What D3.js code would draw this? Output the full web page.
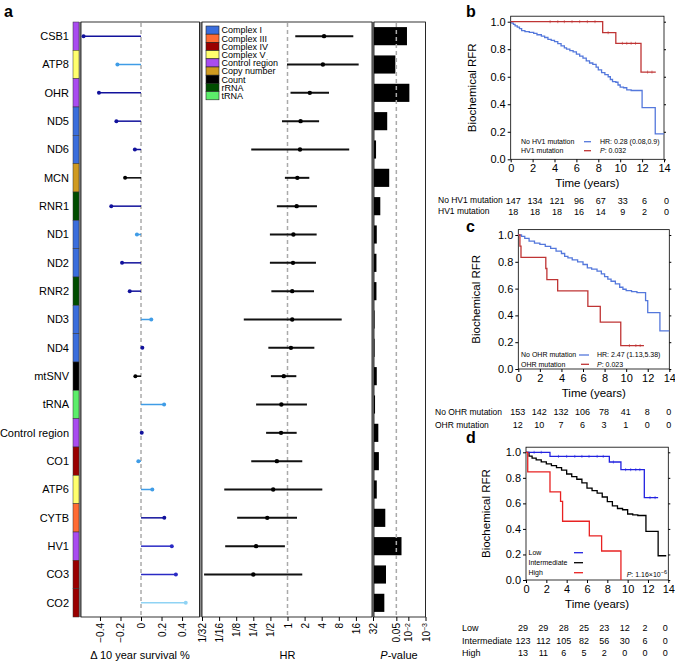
<!DOCTYPE html>
<html>
<head>
<meta charset="utf-8">
<script src="https://cdn.jsdelivr.net/npm/d3@7"></script>
<style>
  body { margin: 0; background: #fff; }
  svg { font-family: "Liberation Sans", Arial, sans-serif; }
</style>
</head>
<body>
<svg id="fig" width="675" height="666"></svg>
<script>
// ---- panel a data
var genes = ['CSB1', 'ATP8', 'OHR', 'ND5', 'ND6', 'MCN', 'RNR1', 'ND1', 'ND2', 'RNR2', 'ND3',
  'ND4', 'mtSNV', 'tRNA', 'Control region', 'CO1', 'ATP6', 'CYTB', 'HV1', 'CO3', 'CO2']
var geneClass = ['Control region', 'Complex V', 'Control region', 'Complex I', 'Complex I', 'Copy number',
  'rRNA', 'Complex I', 'Complex I', 'rRNA', 'Complex I', 'Complex I', 'Count', 'tRNA', 'Control region',
  'Complex IV', 'Complex V', 'Complex III', 'Control region', 'Complex IV', 'Complex IV']
var survDelta = [-0.56, -0.23, -0.41, -0.24, -0.06, -0.155, -0.29, -0.04, -0.185, -0.11, 0.10,
  0.013, -0.055, 0.225, 0.007, -0.026, 0.11, 0.227, 0.30, 0.34, 0.436]
var deltaTone = ['navy', 'sky', 'navy', 'navy', 'navy', 'black', 'navy', 'sky', 'navy', 'navy', 'sky',
  'navy', 'black', 'sky', 'navy', 'sky', 'sky', 'navy', 'blue', 'blue', 'pale']
var hr = [4.4, 4.2, 2.47, 1.7, 1.66, 1.49, 1.45, 1.27, 1.25, 1.21, 1.21, 1.15, 0.86, 0.78, 0.77, 0.65, 0.56, 0.44, 0.28, 0.25, null]
var hrLow = [1.37, 0.98, 1.13, 0.8, 0.23, 0.9, 0.65, 0.49, 0.49, 0.52, 0.17, 0.46, 0.51, 0.28, 0.42, 0.23, 0.077, 0.13, 0.08, 0.034, null]
var hrHigh = [14.4, 17.9, 5.38, 3.6, 12.2, 2.42, 3.3, 3.26, 3.17, 2.93, 9.0, 2.97, 1.43, 2.2, 1.45, 1.82, 4.1, 1.47, 0.9, 1.82, null]
var pValue = [0.012, 0.057, 0.0087, 0.17, 0.76, 0.13, 0.43, 0.69, 0.72, 0.72, 0.93, 0.93, 0.69, 0.87,
  0.56, 0.52, 0.69, 0.22, 0.025, 0.2, 0.25]

var classNames = ['Complex I', 'Complex III', 'Complex IV', 'Complex V', 'Control region', 'Copy number', 'Count', 'rRNA', 'tRNA']
var deltaTicks = [-0.4, -0.2, 0, 0.2, 0.4]
var hrTicks = [1 / 32, 1 / 16, 1 / 8, 1 / 4, 1 / 2, 1, 2, 4, 8, 16, 32]
var hrTickLabels = ['1/32', '1/16', '1/8', '1/4', '1/2', '1', '2', '4', '8', '16', '32']
var pTicks = [0.05, 0.01, 0.001]

// ---- KM data ([time, survival] steps)
var timeTicks = [0, 2, 4, 6, 8, 10, 12, 14]
var kmBNo = [[0, 1], [0.1, 0.99], [0.25, 0.98], [0.4, 0.97], [0.6, 0.96], [0.8, 0.95], [1.0, 0.935], [1.3, 0.928],
  [1.7, 0.922], [2.1, 0.915], [2.4, 0.905], [2.8, 0.895], [3.1, 0.885], [3.4, 0.872], [3.7, 0.865], [4.0, 0.855],
  [4.3, 0.84], [4.6, 0.825], [4.9, 0.81], [5.1, 0.8], [5.4, 0.79], [5.7, 0.78], [6.0, 0.765], [6.3, 0.75],
  [6.6, 0.735], [6.9, 0.715], [7.2, 0.7], [7.5, 0.69], [7.8, 0.67], [8.0, 0.65], [8.3, 0.63], [8.6, 0.615],
  [8.9, 0.6], [9.1, 0.58], [9.3, 0.565], [9.6, 0.56], [9.8, 0.54], [10.0, 0.525], [10.3, 0.52], [10.6, 0.505],
  [11.0, 0.5], [12.0, 0.375], [13.2, 0.185], [14, 0.185]]
var kmBHv1 = [[0, 1], [8.4, 0.92], [9.6, 0.843], [11.9, 0.634], [13.25, 0.634]]
var censBHv1 = [3.6, 4.3, 4.9, 5.6, 6.3, 7.0, 7.7, 8.9, 10.2, 10.6, 11.0, 11.4, 12.5, 12.9]
var kmCNo = [[0, 1], [0.3, 0.99], [0.6, 0.975], [1.0, 0.955], [1.5, 0.94], [2.0, 0.93], [2.5, 0.915], [3.0, 0.9],
  [3.5, 0.88], [4.0, 0.862], [4.3, 0.84], [4.6, 0.83], [5.0, 0.815], [5.5, 0.8], [6.0, 0.78], [6.4, 0.755],
  [6.8, 0.745], [7.3, 0.73], [7.7, 0.71], [8.0, 0.69], [8.3, 0.67], [8.6, 0.655], [9.0, 0.635], [9.4, 0.61],
  [9.7, 0.595], [10.0, 0.585], [10.5, 0.578], [11.0, 0.57], [11.8, 0.51], [12.0, 0.42], [13.13, 0.284], [14, 0.284]]
var kmCOhr = [[0, 1], [0.15, 0.917], [0.25, 0.833], [2.55, 0.75], [2.65, 0.667], [3.65, 0.583], [6.45, 0.467],
  [7.6, 0.35], [9.5, 0.175], [11.65, 0.175]]
var censCOhr = [10.3, 10.9, 11.3]
var kmDLow = [[0, 1], [2.36, 0.968], [8.2, 0.924], [9.34, 0.864], [11.64, 0.645], [13.0, 0.645]]
var censDLow = [0.8, 1.5, 3.2, 4.0, 4.8, 5.5, 6.2, 7.0, 7.6, 8.6, 9.8, 10.3, 10.8, 11.2, 12.2, 12.7]
var kmDInt = [[0, 1], [0.3, 0.97], [0.6, 0.955], [1.0, 0.94], [1.5, 0.925], [2.0, 0.909], [2.5, 0.895], [3.0, 0.88],
  [3.5, 0.86], [4.0, 0.83], [4.5, 0.81], [5.0, 0.789], [5.5, 0.76], [6.0, 0.72], [6.5, 0.7], [7.0, 0.68],
  [7.5, 0.65], [8.0, 0.614], [8.5, 0.58], [9.0, 0.56], [9.5, 0.55], [10.0, 0.517], [10.5, 0.51], [11.0, 0.505],
  [11.8, 0.38], [13.0, 0.19], [13.8, 0.19]]
var kmDHigh = [[0, 1], [0.17, 0.846], [2.36, 0.69], [3.4, 0.615], [3.6, 0.46], [6.23, 0.345], [7.44, 0.227], [9.34, 0]]

var riskBNo = [147, 134, 121, 96, 67, 33, 6, 0]
var riskBHv1 = [18, 18, 18, 16, 14, 9, 2, 0]
var riskCNo = [153, 142, 132, 106, 78, 41, 8, 0]
var riskCOhr = [12, 10, 7, 6, 3, 1, 0, 0]
var riskDLow = [29, 29, 28, 25, 23, 12, 2, 0]
var riskDInt = [123, 112, 105, 82, 56, 30, 6, 0]
var riskDHigh = [13, 11, 6, 5, 2, 0, 0, 0]

var svg = d3.select('#fig')
var FONT = '"Liberation Sans", Arial, sans-serif'

// colours
var classColor = d3.scaleOrdinal()
  .domain(classNames)
  .range(['#3a6ddc', '#ff6b33', '#990000', '#ffff6e', '#a94cf0', '#cf9a20', '#000000', '#004d00', '#5cee6a'])
var toneColor = d3.scaleOrdinal()
  .domain(['navy', 'blue', 'sky', 'pale', 'black'])
  .range(['#12129c', '#2a2ac4', '#3f9ce6', '#8fd3f4', '#000000'])

// ---- panel a layout
var aTop = 22, aBottom = 617
var yRow = d3.scaleBand().domain(genes).range([aTop, aBottom])
var xDelta = d3.scaleLinear().domain([-0.585, 0.575]).range([81, 200])
var xHR = d3.scaleLog().base(2).domain([1 / 32, 32]).range([202, 373])
var xP = d3.scaleLinear().domain([0, 3]).range([374, 425.5])

svg.append('text').attr('x', 4).attr('y', 17).attr('font-size', 16).attr('font-weight', 'bold').text('a')

// grey backing and the three frames
svg.append('rect').attr('x', 79).attr('y', aTop).attr('width', 426 - 79).attr('height', aBottom - aTop).attr('fill', '#8c8c8c')
;[[81, 199.5], [202, 372], [374, 425.5]].forEach(function(p) {
  svg.append('rect').attr('x', p[0]).attr('y', aTop).attr('width', p[1] - p[0]).attr('height', aBottom - aTop)
    .attr('fill', '#fff').attr('stroke', '#000').attr('stroke-width', 0.8)
})

// class strip
svg.selectAll('.strip').data(genes).enter().append('rect')
  .attr('x', 73).attr('width', 6)
  .attr('y', d => yRow(d)).attr('height', yRow.bandwidth())
  .attr('fill', (d, i) => classColor(geneClass[i]))
  .attr('stroke', '#333').attr('stroke-width', 0.5)

svg.selectAll('.glab').data(genes).enter().append('text')
  .attr('x', 69).attr('y', d => yRow(d) + yRow.bandwidth() / 2)
  .attr('dy', '0.35em').attr('text-anchor', 'end').attr('font-size', 11)
  .text(d => d)

function dashed(x) {
  svg.append('line').attr('x1', x).attr('x2', x).attr('y1', aTop + 1).attr('y2', aBottom - 1)
    .attr('stroke', '#aaa').attr('stroke-width', 1.5).attr('stroke-dasharray', '4,3')
}
dashed(xDelta(0))
dashed(xHR(1))

// lollipops
var lol = svg.append('g')
genes.forEach(function(g, i) {
  var cy = yRow(g) + yRow.bandwidth() / 2
  var c = toneColor(deltaTone[i])
  lol.append('line').attr('x1', xDelta(0)).attr('x2', xDelta(survDelta[i])).attr('y1', cy).attr('y2', cy)
    .attr('stroke', c).attr('stroke-width', 1.5)
  lol.append('circle').attr('cx', xDelta(survDelta[i])).attr('cy', cy).attr('r', 2).attr('fill', c)
})

// HR forest
var forest = svg.append('g')
genes.forEach(function(g, i) {
  if (hr[i] == null) return
  var cy = yRow(g) + yRow.bandwidth() / 2
  forest.append('line').attr('x1', xHR(hrLow[i])).attr('x2', xHR(hrHigh[i])).attr('y1', cy).attr('y2', cy)
    .attr('stroke', '#111').attr('stroke-width', 2)
  forest.append('circle').attr('cx', xHR(hr[i])).attr('cy', cy).attr('r', 2.2).attr('fill', '#000')
})

// p-value bars
svg.selectAll('.pbar').data(genes).enter().append('rect')
  .attr('x', xP(0)).attr('y', d => yRow(d) + yRow.bandwidth() * 0.18)
  .attr('height', yRow.bandwidth() * 0.64)
  .attr('width', (d, i) => xP(-Math.log10(pValue[i])) - xP(0))
  .attr('fill', '#000')
dashed(xP(-Math.log10(0.05)))

// legend
var leg = svg.append('g').attr('font-size', 9)
classNames.forEach(function(c, i) {
  var y = 26 + i * 8.2
  leg.append('rect').attr('x', 206).attr('y', y).attr('width', 13).attr('height', 8.2)
    .attr('fill', classColor(c)).attr('stroke', '#222').attr('stroke-width', 0.6)
  leg.append('text').attr('x', 221.5).attr('y', y + 7.4).text(c)
})

// rotated bottom axes
function rotAxis(scale, ticks, labels) {
  var ax = d3.axisBottom(scale).tickValues(ticks).tickSize(4).tickSizeOuter(0)
  if (labels) ax.tickFormat((d, i) => labels[i])
  var g = svg.append('g').attr('transform', 'translate(0,' + aBottom + ')').call(ax)
  g.select('.domain').remove()
  g.selectAll('line').attr('stroke', '#000')
  g.selectAll('text').attr('font-size', 10).attr('font-family', FONT).attr('fill', '#000')
    .attr('transform', 'rotate(-90)').attr('text-anchor', 'end')
    .attr('x', -6).attr('y', 0).attr('dy', '0.35em')
  return g
}
rotAxis(xDelta, deltaTicks, deltaTicks.map(d => d3.format('.1f')(d).replace('0.0', '0')))
rotAxis(xHR, hrTicks, hrTickLabels)
var pAx = rotAxis(xP, pTicks.map(p => -Math.log10(p)), ['0.05', '10', '10'])
pAx.selectAll('text').each(function(d, i) {
  if (i > 0) {
    d3.select(this).append('tspan').attr('dy', '-0.4em').attr('font-size', 7).text('\u2212' + (i + 1))
  }
})

svg.append('text').attr('x', 140).attr('y', 659).attr('text-anchor', 'middle').attr('font-size', 11)
  .text('\u0394 10 year survival %')
svg.append('text').attr('x', 287.5).attr('y', 659).attr('text-anchor', 'middle').attr('font-size', 11).text('HR')
var pv = svg.append('text').attr('x', 399).attr('y', 659).attr('text-anchor', 'middle').attr('font-size', 11)
pv.append('tspan').attr('font-style', 'italic').text('P')
pv.append('tspan').text('-value')

// ---- KM panels
function kmPanel(o) {
  var x = d3.scaleLinear().domain([0, 14]).range([o.x0, o.x1])
  var y = d3.scaleLinear().domain([0, 1.04]).range([o.y0, o.y0 - 1.04 * (o.y0 - o.y1)])
  var g = svg.append('g')
  g.append('text').attr('x', 466).attr('y', o.letterY).attr('font-size', 16).attr('font-weight', 'bold').text(o.letter)

  var ya = g.append('g').attr('transform', 'translate(' + o.x0 + ',0)')
    .call(d3.axisLeft(y).tickValues([0, 0.2, 0.4, 0.6, 0.8, 1.0]).tickFormat(d3.format('.1f')).tickSize(3).tickPadding(2))
  var yr = g.append('g').attr('transform', 'translate(' + o.x1 + ',0)')
    .call(d3.axisRight(y).tickValues([0, 0.2, 0.4, 0.6, 0.8, 1.0]).tickFormat('').tickSize(2))
  var xa = g.append('g').attr('transform', 'translate(0,' + o.y0 + ')')
    .call(d3.axisBottom(x).tickValues(timeTicks).tickSize(3).tickPadding(2))
  ;[ya, yr, xa].forEach(function(a) {
    a.select('.domain').remove()
    a.selectAll('text').attr('font-size', 11).attr('font-family', FONT).attr('fill', '#000')
  })
  g.append('rect').attr('x', o.x0).attr('y', y(1.04)).attr('width', o.x1 - o.x0).attr('height', o.y0 - y(1.04))
    .attr('fill', 'none').attr('stroke', '#000').attr('stroke-width', 0.8)

  g.append('text').attr('x', (o.x0 + o.x1) / 2).attr('y', o.y0 + 28).attr('text-anchor', 'middle')
    .attr('font-size', 11.5).text('Time (years)')
  g.append('text').attr('transform', 'translate(' + o.labX + ',' + y(0.52) + ') rotate(-90)')
    .attr('text-anchor', 'middle').attr('font-size', 11.5).text('Biochemical RFR')

  var line = d3.line().x(d => x(d[0])).y(d => y(d[1])).curve(d3.curveStepAfter)
  o.curves.forEach(function(c) {
    g.append('path').attr('d', line(c.data)).attr('fill', 'none').attr('stroke', c.color).attr('stroke-width', 1.3)
    if (c.cens) {
      c.cens.forEach(function(t) {
        var s = c.data.filter(d => d[0] <= t).pop()[1]
        g.append('line').attr('x1', x(t)).attr('x2', x(t)).attr('y1', y(s) - 1.5).attr('y2', y(s) + 1.5)
          .attr('stroke', c.color).attr('stroke-width', 0.6)
      })
    }
  })

  // at-risk table
  o.risk.forEach(function(r, j) {
    var ry = o.riskY[j]
    g.append('text').attr('x', o.riskX).attr('y', ry).attr('dy', '0.35em').attr('font-size', o.riskFont).text(r.name)
    g.selectAll(null).data(r.n).enter().append('text')
      .attr('x', (d, i) => x(timeTicks[i]) + o.riskShift).attr('y', ry).attr('dy', '0.35em')
      .attr('text-anchor', 'middle').attr('font-size', 9).text(d => d)
  })
  return { g: g, x: x, y: y }
}

function legendLine(g, x1, x2, y, color) {
  g.append('line').attr('x1', x1).attr('x2', x2).attr('y1', y).attr('y2', y).attr('stroke', color).attr('stroke-width', 1.3)
}
function smallText(g, x, y, txt) {
  return g.append('text').attr('x', x).attr('y', y).attr('dy', '0.35em').attr('font-size', 7).text(txt)
}
function pText(g, x, y, rest, anchor) {
  var t = g.append('text').attr('x', x).attr('y', y).attr('dy', '0.35em').attr('font-size', 7)
    .attr('text-anchor', anchor || 'start')
  t.append('tspan').attr('font-style', 'italic').text('P')
  t.append('tspan').text(rest)
  return t
}

var blueKM = '#5478dc', redKM = '#bf3434'

var pb = kmPanel({
  letter: 'b', letterY: 17, x0: 510.7, x1: 664, y0: 159.3, y1: 21.7, labX: 476,
  curves: [{ data: kmBNo, color: blueKM }, { data: kmBHv1, color: redKM, cens: censBHv1 }],
  risk: [{ name: 'No HV1 mutation', n: riskBNo }, { name: 'HV1 mutation', n: riskBHv1 }],
  riskY: [200.5, 211.5], riskX: 438, riskFont: 8.5, riskShift: 2.5
})
smallText(pb.g, 521, 141.7, 'No HV1 mutation')
smallText(pb.g, 521, 150.7, 'HV1 mutation')
legendLine(pb.g, 584, 591, 141.7, blueKM)
legendLine(pb.g, 584, 591, 150.7, redKM)
smallText(pb.g, 600, 141.7, 'HR: 0.28 (0.08,0.9)')
pText(pb.g, 600, 150.7, ': 0.032')

var pc = kmPanel({
  letter: 'c', letterY: 232, x0: 518.3, x1: 669.3, y0: 369, y1: 235, labX: 480,
  curves: [{ data: kmCNo, color: blueKM }, { data: kmCOhr, color: redKM, cens: censCOhr }],
  risk: [{ name: 'No OHR mutation', n: riskCNo }, { name: 'OHR mutation', n: riskCOhr }],
  riskY: [411.7, 425], riskX: 435, riskFont: 8.5, riskShift: -0.5
})
smallText(pc.g, 521, 355, 'No OHR mutation')
smallText(pc.g, 521, 364.3, 'OHR mutation')
legendLine(pc.g, 579, 589, 355, blueKM)
legendLine(pc.g, 581, 589, 364.3, redKM)
smallText(pc.g, 597, 355, 'HR: 2.47 (1.13,5.38)')
pText(pc.g, 597, 364.3, ': 0.023')

var pd = kmPanel({
  letter: 'd', letterY: 443, x0: 526, x1: 668.3, y0: 580, y1: 452.3, labX: 490,
  curves: [{ data: kmDInt, color: '#000' }, { data: kmDLow, color: '#2323e0', cens: censDLow }, { data: kmDHigh, color: '#e82222' }],
  risk: [{ name: 'Low', n: riskDLow }, { name: 'Intermediate', n: riskDInt }, { name: 'High', n: riskDHigh }],
  riskY: [628.3, 641, 653.3], riskX: 462, riskFont: 9, riskShift: -3
})
smallText(pd.g, 528.5, 552.7, 'Low')
smallText(pd.g, 528.5, 562.7, 'Intermediate')
smallText(pd.g, 528.5, 572.7, 'High')
legendLine(pd.g, 574, 583, 552.7, '#2323e0')
legendLine(pd.g, 574, 583, 562.7, '#000')
legendLine(pd.g, 574, 583, 572.7, '#e82222')
var pt = pText(pd.g, 667, 574.5, ': 1.16\u00d710', 'end')
pt.append('tspan').attr('dy', '-0.5em').attr('font-size', 5.5).text('\u22126')
</script>
</body>
</html>
